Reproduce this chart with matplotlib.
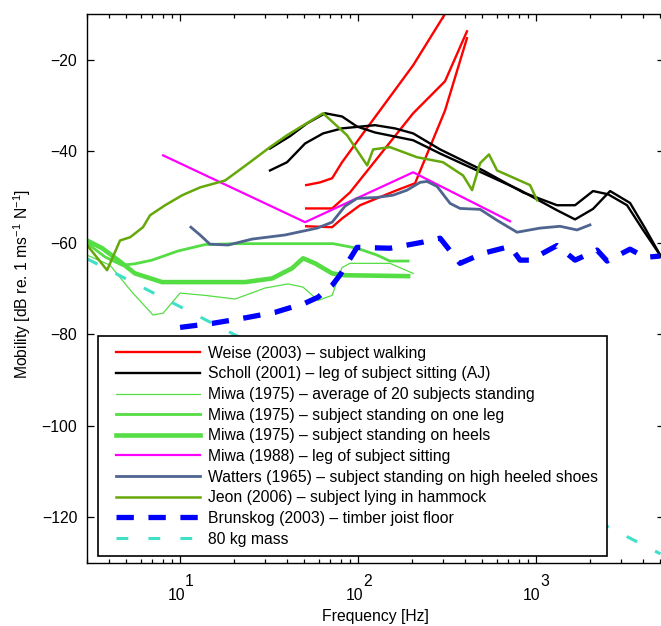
import numpy as np
import matplotlib
matplotlib.use('Agg')
import matplotlib.pyplot as plt
from matplotlib.ticker import NullFormatter, FixedLocator
from matplotlib.lines import Line2D
from matplotlib.legend_handler import HandlerLine2D

plt.rcParams['font.family'] = ['Liberation Sans', 'DejaVu Sans']
plt.rcParams['mathtext.default'] = 'regular'
plt.rcParams['font.size'] = 11.3
plt.rcParams['lines.scale_dashes'] = False

FS = 11.3

# ---- data (frequency in Hz, mobility in dB re 1 m/s/N) ----
weise_a_f = [51.1, 61.2, 71.5, 81.3, 102.6, 204, 330]
weise_a_db = [-47.4, -46.8, -45.9, -42.4, -37.0, -21.2, -8.1]
weise_b_f = [51.1, 71.5, 90.1, 204, 308, 409]
weise_b_db = [-52.5, -52.5, -49.0, -31.7, -24.7, -13.8]
weise_c_f = [51.1, 71.5, 81.3, 102.6, 165.6, 209, 308, 409]
weise_c_db = [-56.4, -56.6, -54.7, -51.8, -48.5, -47.0, -31.1, -15.3]

scholl_a_f = [32, 39.9, 50.4, 63.6, 81.3, 124.6, 161, 204, 289, 504, 845,
              1312, 1656, 2090, 2538, 3245, 3990, 4975]
scholl_a_db = [-44.2, -42.4, -38.3, -36.1, -35.0, -34.3, -35.0, -36.1, -39.6,
               -44.2, -49.0, -51.8, -51.8, -48.7, -49.4, -51.8, -57.2, -62.7]
scholl_b_f = [32, 41.5, 51.7, 65.3, 81.3, 98.7, 124.6, 204, 289, 504, 813,
              1312, 1656, 2090, 2606, 3373, 4093, 5100]
scholl_b_db = [-39.4, -36.7, -33.9, -31.7, -32.4, -34.6, -35.9, -37.6, -40.5,
               -44.8, -48.5, -52.9, -54.9, -52.6, -48.7, -51.3, -56.8, -63.4]

miwa_avg_f = [3.0, 4.04, 5.37, 7.05, 8.03, 10, 13.8, 20.4, 30.0, 40.4, 49.1,
              59.6, 71.5, 81.3, 90.1, 151, 204]
miwa_avg_db = [-62.7, -64.9, -70.8, -75.8, -75.4, -71.0, -71.5, -72.3, -69.9,
               -69.0, -69.7, -72.6, -71.5, -65.4, -64.5, -64.5, -66.7]

miwa_leg_f = [3.0, 3.79, 4.72, 5.58, 6.96, 9.74, 13.8, 20.4, 38.9, 72.4, 98.7,
              127.9, 151, 191]
miwa_leg_db = [-60.1, -63.1, -64.9, -64.6, -63.8, -61.8, -60.4, -60.2, -60.2,
               -60.2, -61.2, -62.7, -64.0, -64.0]

miwa_heel_f = [3.0, 3.65, 4.49, 5.58, 7.92, 13.3, 23.2, 32.9, 42.5, 49.1, 57.3,
               71.5, 84.5, 191]
miwa_heel_db = [-59.5, -61.2, -63.8, -66.7, -68.6, -68.6, -68.6, -67.8, -65.6,
                -63.4, -64.5, -66.7, -67.1, -67.3]

miwa88_f = [8.03, 50.4, 204, 714]
miwa88_db = [-40.9, -55.5, -44.6, -55.3]

watters_f = [11.5, 12.95, 14.7, 18.6, 25.4, 38.9, 58.9, 71.5, 84.5, 98.7, 127.9,
             157.4, 188.5, 223, 244, 278, 329, 374, 485, 604, 782, 1053, 1363,
             1698, 2009]
watters_db = [-56.6, -58.3, -60.3, -60.5, -59.2, -58.3, -56.8, -55.5, -52.0,
              -50.3, -50.1, -49.6, -48.5, -46.8, -46.6, -47.7, -51.4, -52.5,
              -52.7, -55.1, -57.7, -56.8, -56.4, -57.2, -56.1]

jeon_f = [3.0, 3.89, 4.60, 5.24, 6.19, 6.78, 8.24, 10.3, 12.95, 17.9, 24.7, 32.0,
          39.9, 63.6, 86.7, 112.5, 121.5, 151, 214, 300, 389, 437, 485, 544,
          604, 925, 1013]
jeon_db = [-60.5, -66.0, -59.5, -58.8, -56.6, -54.0, -51.8, -49.6, -47.9, -46.4,
           -42.4, -39.1, -36.5, -31.7, -36.5, -43.1, -39.6, -39.1, -41.3, -42.4,
           -45.3, -48.5, -42.6, -40.7, -44.2, -47.4, -50.7]

brunskog_f = [10, 15.3, 22.6, 34.2, 50.4, 59.6, 71.5, 79, 98.7, 151, 229, 289,
              374, 504, 714, 813, 925, 1312, 1656, 2202, 2506, 3373, 4093, 4975]
brunskog_db = [-78.5, -77.6, -76.5, -75.2, -73.2, -71.9, -69.3, -67.1, -61.0,
               -61.2, -59.9, -59.0, -64.5, -62.3, -60.8, -63.8, -63.8, -60.6,
               -63.8, -61.6, -64.0, -61.4, -63.2, -62.9]

mass_f = [3, 5000]
mass_db = [-63.5, -128.0]

labels = [
    'Weise (2003) \u2013 subject walking',
    'Scholl (2001) \u2013 leg of subject sitting (AJ)',
    'Miwa (1975) \u2013 average of 20 subjects standing',
    'Miwa (1975) \u2013 subject standing on one leg',
    'Miwa (1975) \u2013 subject standing on heels',
    'Miwa (1988) \u2013 leg of subject sitting',
    'Watters (1965) \u2013 subject standing on high heeled shoes',
    'Jeon (2006) \u2013 subject lying in hammock',
    'Brunskog (2003) \u2013 timber joist floor',
    '80 kg mass',
]

fig = plt.figure(figsize=(6.61, 6.26), dpi=100)
ax = fig.add_axes([87 / 661, 63 / 626, 576.5 / 661, 549 / 626])

green = '#55dd44'
h = []
h += ax.plot(weise_a_f, weise_a_db, color='#ff0000', lw=1.7, label=labels[0])
ax.plot(weise_b_f, weise_b_db, color='#ff0000', lw=1.7)
ax.plot(weise_c_f, weise_c_db, color='#ff0000', lw=1.7)
h += ax.plot(scholl_a_f, scholl_a_db, color='black', lw=1.7, label=labels[1])
ax.plot(scholl_b_f, scholl_b_db, color='black', lw=1.7)
h += ax.plot(miwa_avg_f, miwa_avg_db, color=green, lw=0.9, label=labels[2])
h += ax.plot(miwa_leg_f, miwa_leg_db, color=green, lw=2.0, label=labels[3])
h += ax.plot(miwa_heel_f, miwa_heel_db, color=green, lw=3.3, label=labels[4])
h += ax.plot(miwa88_f, miwa88_db, color='#ff00ff', lw=1.6, label=labels[5])
h += ax.plot(watters_f, watters_db, color='#4f6590', lw=2.0, label=labels[6])
h += ax.plot(jeon_f, jeon_db, color='#66a80a', lw=1.8, label=labels[7])
h += ax.plot(brunskog_f, brunskog_db, color='#0000ff', lw=3.8,
             dashes=(12.5, 10.5), dash_capstyle='butt', label=labels[8])
h += ax.plot(mass_f, mass_db, color='#40e0c8', lw=2.2,
             dashes=(8.5, 14.5), dash_capstyle='butt', label=labels[9])

ax.set_xscale('log')
ax.set_xlim(3, 5200)
ax.set_ylim(-130, -10)
ax.set_yticks([-120, -100, -80, -60, -40, -20])
ax.xaxis.set_major_locator(FixedLocator([10, 100, 1000]))
ax.xaxis.set_minor_formatter(NullFormatter())
ax.tick_params(which='both', direction='in', top=True, right=True,
               labelbottom=False, width=0.9)
ax.tick_params(which='major', length=5)
ax.tick_params(which='minor', length=3)
ax.tick_params(axis='y', pad=7, labelsize=FS)
for s in ax.spines.values():
    s.set_linewidth(1.0)

# MATLAB-style decade labels
for k, d in enumerate([10, 100, 1000]):
    ax.annotate('10', xy=(d, 0), xycoords=('data', 'axes fraction'),
                xytext=(-4, -32), textcoords='offset pixels',
                ha='center', va='center', fontsize=FS)
    ax.annotate(str(k + 1), xy=(d, 0), xycoords=('data', 'axes fraction'),
                xytext=(9, -18), textcoords='offset pixels',
                ha='center', va='center', fontsize=FS)

fig.text(375 / 661, 1 - 617 / 626, 'Frequency [Hz]', ha='center', va='center',
         fontsize=FS)
fig.text(22 / 661, 1 - 284 / 626, 'Mobility [dB re. 1 ms$^{-1}$ N$^{-1}$]',
         rotation=90, ha='center', va='center', fontsize=FS)

leg = ax.legend(handles=h, loc='upper left',
                bbox_to_anchor=(98 / 661, 1 - 336 / 626),
                bbox_transform=fig.transFigure, borderaxespad=0,
                fancybox=False, framealpha=1, edgecolor='black',
                handlelength=5.86, handletextpad=0.5, labelspacing=0.36,
                borderpad=0.62, fontsize=FS,
                handler_map={Line2D: HandlerLine2D(xpad=0.5)})
leg.get_frame().set_linewidth(1.2)
leg.set_zorder(10)

fig.savefig('out.png', dpi=100)
